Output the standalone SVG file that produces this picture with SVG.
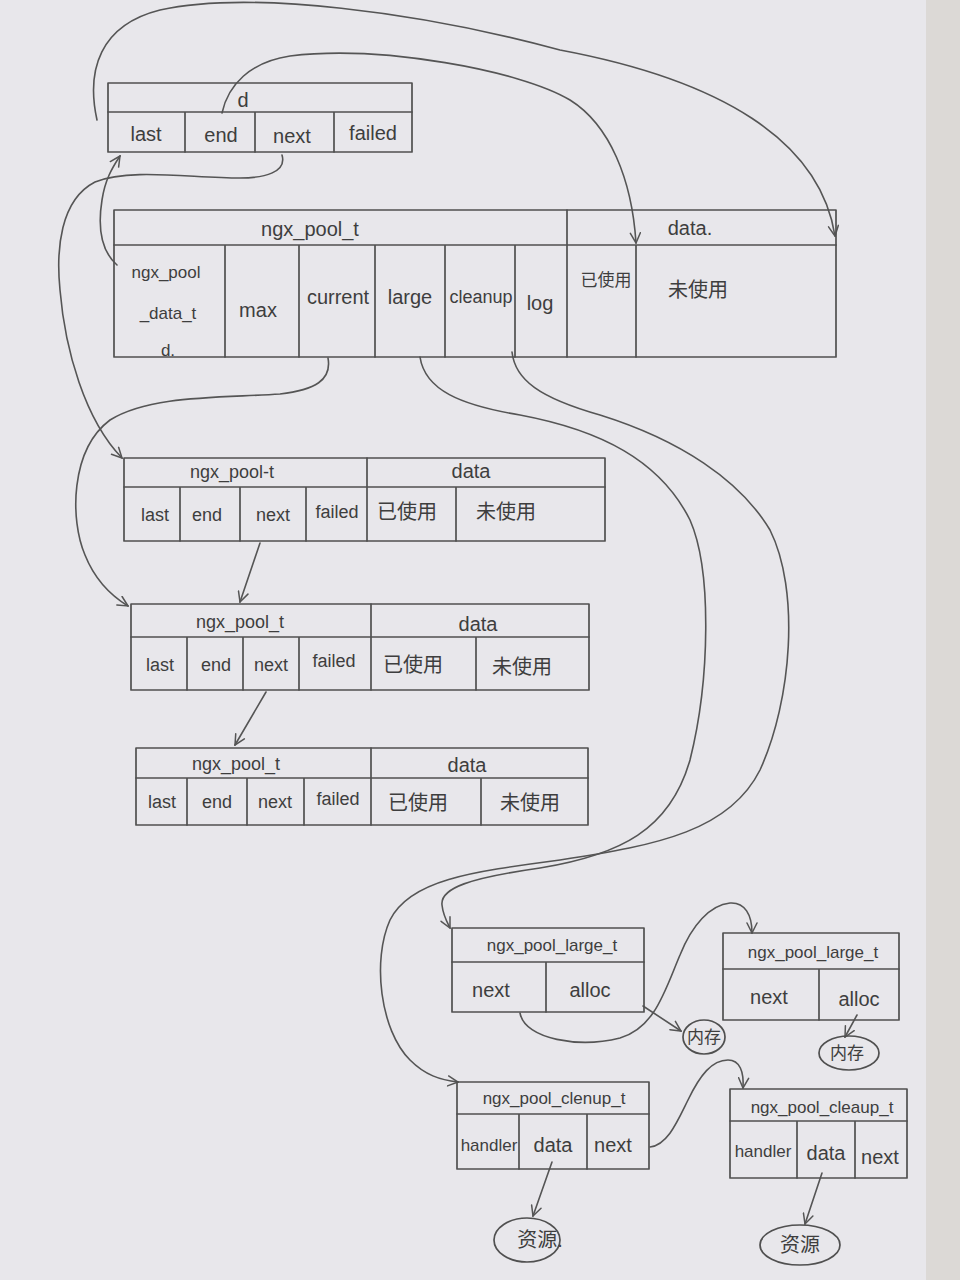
<svg xmlns="http://www.w3.org/2000/svg" width="960" height="1280" viewBox="0 0 960 1280">
<style>
.b{fill:none;stroke:#505050;stroke-width:1.7;stroke-linecap:round;stroke-linejoin:round}
.c{fill:none;stroke:#555;stroke-width:1.6;stroke-linecap:round}
.t{font-family:"Liberation Sans","Noto Sans CJK SC",sans-serif;fill:#3e3e3e;text-anchor:middle;dominant-baseline:central}
.s{font-size:20px}.m{font-size:18px}.k{font-size:17px}
</style>
<defs>
<marker id="ah" viewBox="0 0 12 12" refX="11" refY="6" markerWidth="12" markerHeight="12" markerUnits="userSpaceOnUse" orient="auto">
<path d="M1,1 L11,6 L1,11" fill="none" stroke="#555" stroke-width="1.5" stroke-linecap="round"/>
</marker>
</defs>
<rect width="960" height="1280" fill="#e8e7eb"/>
<rect x="926" y="0" width="34" height="1280" fill="#dcd9d6"/>

<g id="connectors">
<path class="c" marker-end="url(#ah)" d="M97,120 C86,70 100,25 160,10 C250,-10 420,12 560,50 C720,80 820,140 835,236"/>
<path class="c" marker-end="url(#ah)" d="M222,113 C228,85 250,62 290,56 C380,45 520,70 570,100 C610,125 632,180 636,243"/>
<path class="c" marker-end="url(#ah)" d="M282,155 C287,172 265,178 240,178 C190,178 130,168 95,182 C60,200 56,250 60,290 C65,350 85,420 122,458"/>
<path class="c" marker-end="url(#ah)" d="M117,265 C100,250 98,225 102,200 C105,180 112,168 120,156"/>
<path class="c" marker-end="url(#ah)" d="M328,358 C332,380 315,390 280,394 C220,398 150,395 110,420 C70,450 70,520 85,555 C95,580 110,595 128,606"/>
<path class="c" marker-end="url(#ah)" d="M260,543 L240,602"/>
<path class="c" marker-end="url(#ah)" d="M266,692 L235,745"/>
<path class="c" marker-end="url(#ah)" d="M420,357 C425,390 460,405 520,415 C600,430 660,460 690,520 C712,570 710,680 690,760 C670,830 620,855 540,868 C470,878 440,888 442,905 C443,915 447,922 450,928"/>
<path class="c" marker-end="url(#ah)" d="M512,352 C515,380 540,398 600,415 C680,440 740,480 770,530 C800,590 792,700 760,770 C730,830 660,845 560,860 C470,872 410,880 390,920 C372,960 380,1030 410,1060 C425,1075 440,1080 458,1082"/>
<path class="c" marker-end="url(#ah)" d="M520,1013 C525,1040 580,1048 620,1038 C655,1028 665,990 680,955 C692,925 710,905 730,903 C745,902 752,915 752,933"/>
<path class="c" marker-end="url(#ah)" d="M643,1006 L681,1031"/>
<path class="c" marker-end="url(#ah)" d="M857,1015 L845,1037"/>
<path class="c" marker-end="url(#ah)" d="M650,1147 C668,1145 678,1120 688,1100 C700,1075 712,1060 728,1060 C740,1060 744,1072 743,1088"/>
<path class="c" marker-end="url(#ah)" d="M552,1162 L533,1216"/>
<path class="c" marker-end="url(#ah)" d="M822,1173 L805,1224"/>
</g>

<g id="d">
<rect class="b" x="108" y="83" width="304" height="69"/>
<path class="b" d="M108,112 L412,112 M185,112 L185,152 M255,112 L255,152 M334,112 L334,152"/>
<text class="t s" x="243" y="100">d</text>
<text class="t s" x="146" y="134">last</text>
<text class="t s" x="221" y="135">end</text>
<text class="t s" x="292" y="136">next</text>
<text class="t s" x="373" y="133">failed</text>
</g>

<g id="pool">
<rect class="b" x="114" y="210" width="722" height="147"/>
<path class="b" d="M114,245 L836,245 M567,210 L567,357 M225,245 L225,357 M299,245 L299,357 M375,245 L375,357 M445,245 L445,357 M515,245 L515,357 M636,245 L636,357"/>
<text class="t s" x="310" y="229">ngx_pool_t</text>
<text class="t s" x="690" y="228">data.</text>
<text class="t k" x="166" y="272">ngx_pool</text>
<text class="t k" x="168" y="313">_data_t</text>
<text class="t k" x="168" y="350">d.</text>
<text class="t s" x="258" y="310">max</text>
<text class="t s" x="338" y="297">current</text>
<text class="t s" x="410" y="297">large</text>
<text class="t m" x="481" y="297">cleanup</text>
<text class="t s" x="540" y="303">log</text>
<text class="t k" x="606" y="280">已使用</text>
<text class="t s" x="698" y="290">未使用</text>
</g>

<g id="pool2">
<rect class="b" x="124" y="458" width="481" height="83"/>
<path class="b" d="M124,487 L605,487 M367,458 L367,541 M180,487 L180,541 M240,487 L240,541 M306,487 L306,541 M456,487 L456,541"/>
<text class="t m" x="232" y="472">ngx_pool-t</text>
<text class="t s" x="471" y="471">data</text>
<text class="t m" x="155" y="515">last</text>
<text class="t m" x="207" y="515">end</text>
<text class="t m" x="273" y="515">next</text>
<text class="t m" x="337" y="512">failed</text>
<text class="t s" x="407" y="512">已使用</text>
<text class="t s" x="506" y="512">未使用</text>
</g>

<g id="pool3">
<rect class="b" x="131" y="604" width="458" height="86"/>
<path class="b" d="M131,637 L589,637 M371,604 L371,690 M187,637 L187,690 M243,637 L243,690 M299,637 L299,690 M476,637 L476,690"/>
<text class="t m" x="240" y="622">ngx_pool_t</text>
<text class="t s" x="478" y="624">data</text>
<text class="t m" x="160" y="665">last</text>
<text class="t m" x="216" y="665">end</text>
<text class="t m" x="271" y="665">next</text>
<text class="t m" x="334" y="661">failed</text>
<text class="t s" x="413" y="665">已使用</text>
<text class="t s" x="522" y="667">未使用</text>
</g>

<g id="pool4">
<rect class="b" x="136" y="748" width="452" height="77"/>
<path class="b" d="M136,778 L588,778 M371,748 L371,825 M187,778 L187,825 M247,778 L247,825 M304,778 L304,825 M481,778 L481,825"/>
<text class="t m" x="236" y="764">ngx_pool_t</text>
<text class="t s" x="467" y="765">data</text>
<text class="t m" x="162" y="802">last</text>
<text class="t m" x="217" y="802">end</text>
<text class="t m" x="275" y="802">next</text>
<text class="t m" x="338" y="799">failed</text>
<text class="t s" x="418" y="803">已使用</text>
<text class="t s" x="530" y="803">未使用</text>
</g>

<g id="large1">
<rect class="b" x="452" y="928" width="192" height="84"/>
<path class="b" d="M452,962 L644,962 M546,962 L546,1012"/>
<text class="t k" x="552" y="945">ngx_pool_large_t</text>
<text class="t s" x="491" y="990">next</text>
<text class="t s" x="590" y="990">alloc</text>
</g>

<g id="large2">
<rect class="b" x="723" y="933" width="176" height="87"/>
<path class="b" d="M723,969 L899,969 M819,969 L819,1020"/>
<text class="t k" x="813" y="952">ngx_pool_large_t</text>
<text class="t s" x="769" y="997">next</text>
<text class="t s" x="859" y="999">alloc</text>
</g>

<g id="mem1">
<ellipse class="b" cx="704" cy="1037" rx="21" ry="17"/>
<text class="t k" x="704" y="1037">内存</text>
</g>

<g id="mem2">
<ellipse class="b" cx="849" cy="1053" rx="30" ry="17"/>
<text class="t k" x="847" y="1053">内存</text>
</g>

<g id="cleanup1">
<rect class="b" x="457" y="1082" width="192" height="87"/>
<path class="b" d="M457,1114 L649,1114 M519,1114 L519,1169 M587,1114 L587,1169"/>
<text class="t k" x="554" y="1098">ngx_pool_clenup_t</text>
<text class="t k" x="489" y="1145">handler</text>
<text class="t s" x="553" y="1145">data</text>
<text class="t s" x="613" y="1145">next</text>
</g>

<g id="cleanup2">
<rect class="b" x="730" y="1089" width="177" height="89"/>
<path class="b" d="M730,1121 L907,1121 M797,1121 L797,1178 M855,1121 L855,1178"/>
<text class="t k" x="822" y="1107">ngx_pool_cleaup_t</text>
<text class="t k" x="763" y="1151">handler</text>
<text class="t s" x="826" y="1153">data</text>
<text class="t s" x="880" y="1157">next</text>
</g>

<g id="res1">
<ellipse class="b" cx="527" cy="1240" rx="33" ry="22"/>
<text class="t s" x="540" y="1240">资源.</text>
</g>

<g id="res2">
<ellipse class="b" cx="800" cy="1245" rx="40" ry="20"/>
<text class="t s" x="800" y="1245">资源</text>
</g>
</svg>
